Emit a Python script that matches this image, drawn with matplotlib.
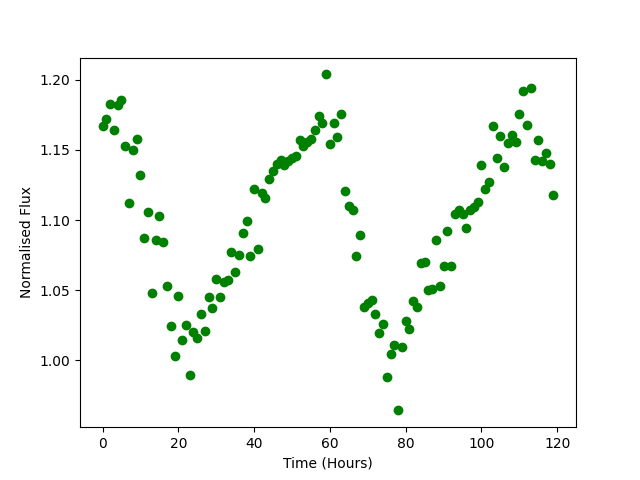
import numpy as np
import matplotlib
matplotlib.use("Agg")
import matplotlib.pyplot as plt

hours = list(range(120))
flux = [1.167, 1.172, 1.183, 1.164, 1.182, 1.186, 1.153, 1.112, 1.150, 1.158,
        1.132, 1.087, 1.106, 1.048, 1.086, 1.103, 1.084, 1.053, 1.024, 1.003,
        1.046, 1.014, 1.025, 0.989, 1.020, 1.016, 1.033, 1.021, 1.045, 1.037,
        1.058, 1.045, 1.056, 1.057, 1.077, 1.063, 1.075, 1.091, 1.099, 1.074,
        1.122, 1.079, 1.119, 1.116, 1.129, 1.135, 1.140, 1.143, 1.139, 1.142,
        1.144, 1.146, 1.157, 1.153, 1.156, 1.158, 1.164, 1.174, 1.169, 1.204,
        1.154, 1.169, 1.159, 1.176, 1.121, 1.110, 1.107, 1.074, 1.089, 1.038,
        1.041, 1.043, 1.033, 1.019, 1.026, 0.988, 1.004, 1.011, 0.964, 1.009,
        1.028, 1.022, 1.042, 1.038, 1.069, 1.070, 1.050, 1.051, 1.086, 1.053,
        1.067, 1.092, 1.067, 1.104, 1.107, 1.104, 1.094, 1.107, 1.109, 1.113,
        1.139, 1.122, 1.127, 1.167, 1.144, 1.160, 1.138, 1.155, 1.161, 1.156,
        1.176, 1.192, 1.168, 1.194, 1.143, 1.157, 1.142, 1.148, 1.140, 1.118]

fig, ax = plt.subplots(figsize=(6.4, 4.8), dpi=100)
ax.plot(hours, flux, 'o', color='green')
ax.set_xlabel('Time (Hours)')
ax.set_ylabel('Normalised Flux')
fig.savefig('out.png')
